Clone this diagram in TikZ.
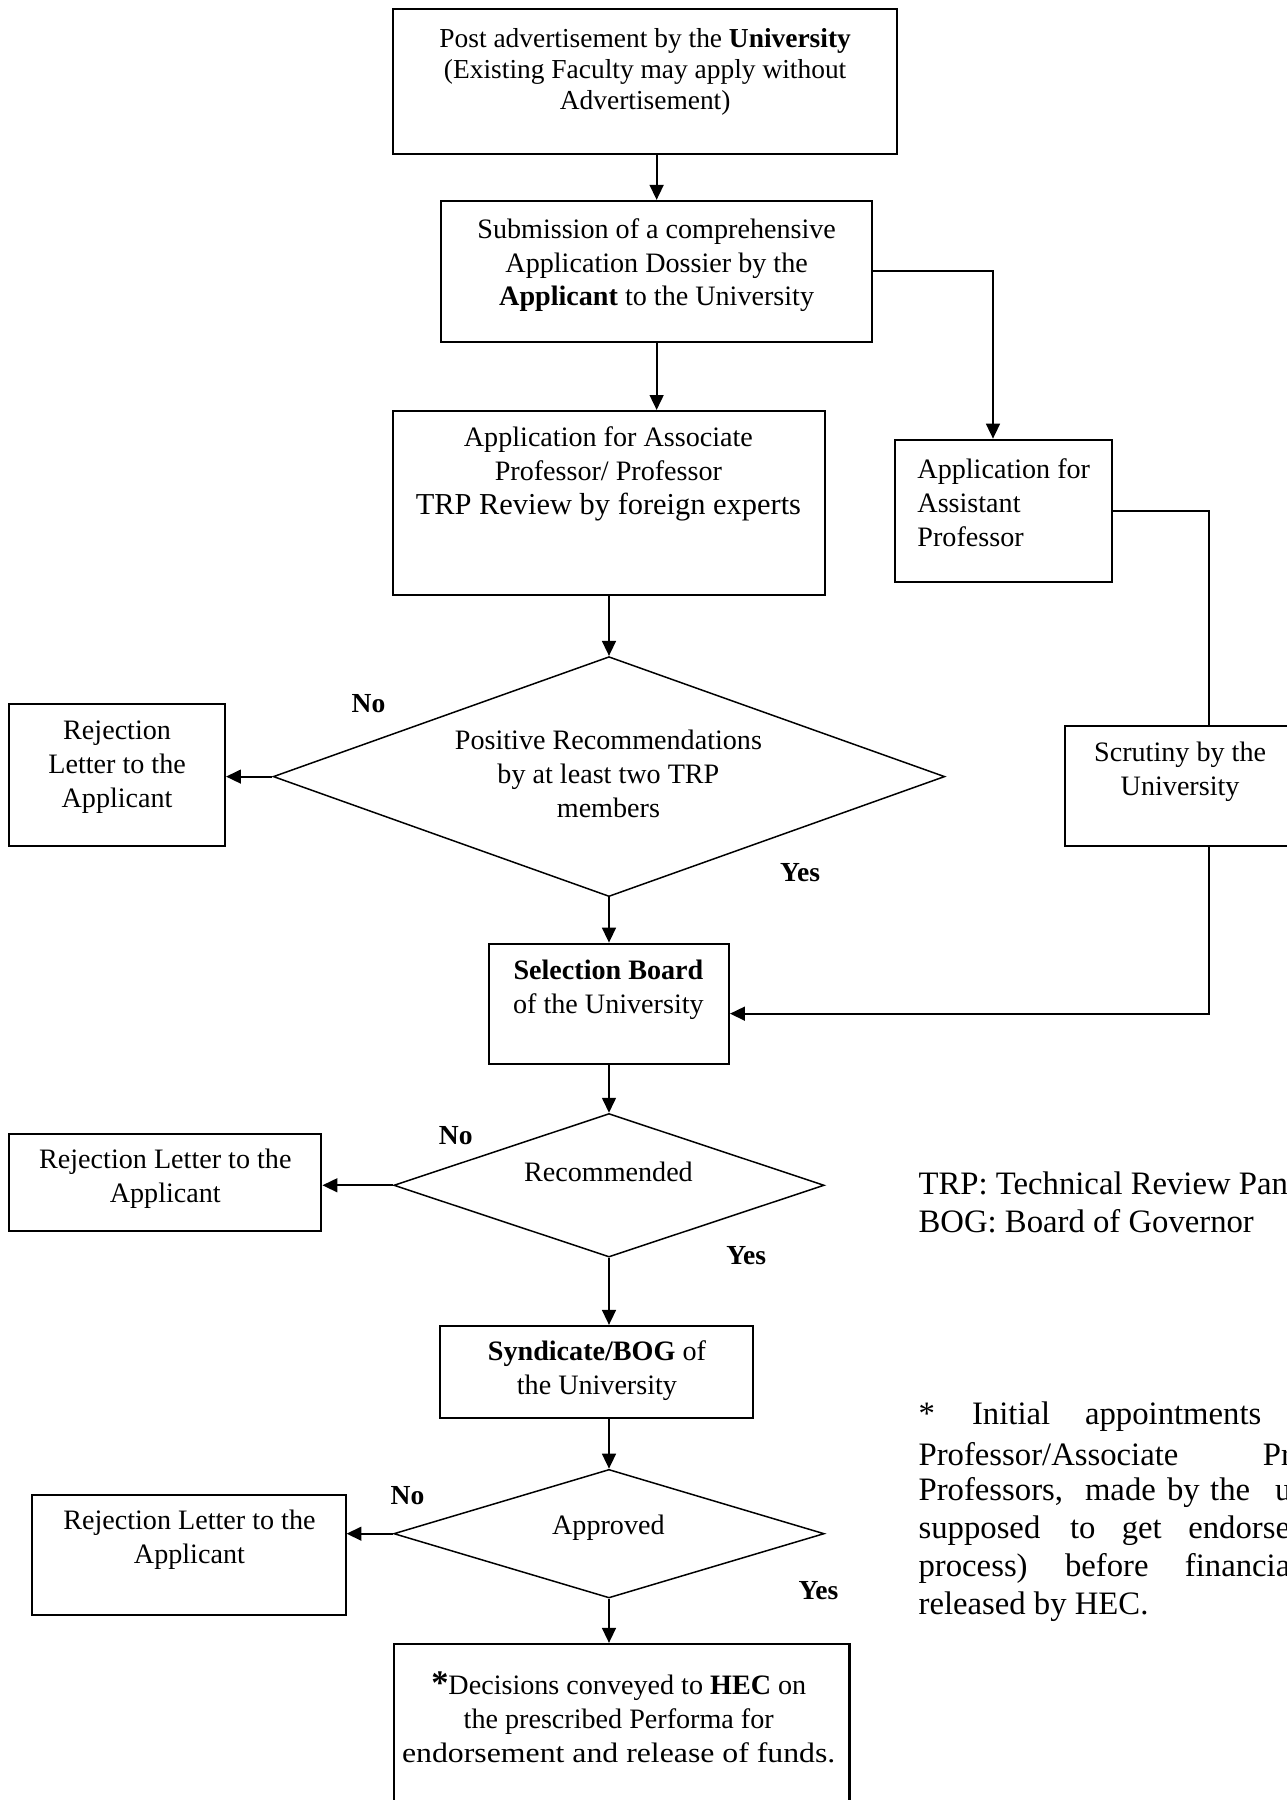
\documentclass[tikz,border=0pt]{standalone}
\usepackage{fontspec}
\setmainfont{Liberation Serif}
\usetikzlibrary{arrows.meta,shapes.geometric,fit,calc}
\begin{document}
\begin{tikzpicture}[x=1pt,y=-1pt,
  box/.style={draw, line width=1.75pt, inner sep=0pt},
  dia/.style={draw, diamond, line width=1.3pt, inner sep=0pt},
  gtxt/.style={align=center, inner sep=0pt, font=\fontsize{24.5}{29.5}\selectfont},
  ttxt/.style={align=center, inner sep=0pt, font=\fontsize{23.9}{27}\selectfont},
  ftxt/.style={align=left, inner sep=0pt, anchor=west, font=\fontsize{28.5}{33}\selectfont},
  lbl/.style={inner sep=0pt, font=\fontsize{24}{28}\selectfont\bfseries},
  arr/.style={line width=1.75pt, -{Triangle[length=13pt,width=12pt]}},
  ln/.style={line width=1.75pt}]
\useasboundingbox (0,0) rectangle (1121,1568);
\fill[white] (0,0) rectangle (1121,1568);

% boxes
\node[box, fit={(342,8) (781,134)}] (b1) {};
\node[ttxt] (t1) at (562,63) {Post advertisement by the \textbf{University}\\(Existing Faculty may apply without\\Advertisement)};

\node[box, fit={(384,175) (760,298)}] (b2) {};
\node[gtxt] (t2) at (572,231) {Submission of a comprehensive\\Application Dossier by the\\\textbf{Applicant} to the University};

\node[box, fit={(342,358) (719,518)}] (b3) {};
\node[gtxt] (t3) at (530,413) {Application for Associate\\Professor/ Professor\\{\fontsize{26.5}{30}\selectfont TRP Review by foreign experts}};

\node[box, fit={(780,383) (969,507)}] (b4) {};
\node[gtxt, align=left, anchor=west] (t4) at (799,438) {Application for\\Assistant\\Professor};

\node[dia, minimum width=585pt, minimum height=209pt] (d1) at (530.5,676.5) {};
\node[gtxt] (td1) at (530,674) {Positive Recommendations\\by at least two TRP\\members};

\node[box, fit={(8,613) (196,737)}] (r1) {};
\node[gtxt] (tr1) at (102,668) {Rejection\\Letter to the\\Applicant};

\node[box, fit={(928,632) (1128,737)}] (sc) {};
\node[gtxt] (tsc) at (1028,672) {Scrutiny by the\\University};

\node[box, fit={(426,822) (635,927)}] (sel) {};
\node[gtxt] (tsel) at (530,862) {\textbf{Selection Board}\\of the University};

\node[dia, minimum width=375pt, minimum height=125pt] (d2) at (530.5,1032.5) {};
\node[gtxt] (td2) at (530,1021) {Recommended};

\node[box, fit={(8,988) (280,1072)}] (r2) {};
\node[gtxt] (tr2) at (144,1027) {Rejection Letter to the\\Applicant};

\node[box, fit={(383,1155) (656,1235)}] (syn) {};
\node[gtxt] (tsyn) at (520,1194) {\textbf{Syndicate/BOG} of\\the University};

\node[dia, minimum width=375pt, minimum height=112pt] (d3) at (530.5,1336) {};
\node[gtxt] (td3) at (530,1331) {Approved};

\node[box, fit={(28,1302) (301,1407)}] (r3) {};
\node[gtxt] (tr3) at (165,1341) {Rejection Letter to the\\Applicant};

\node[box, fit={(343,1432) (740,1620)}] (hec) {};
\node[gtxt] (thec) at (539,1496) {{\fontsize{30}{30}\selectfont\bfseries *}Decisions conveyed to \textbf{HEC} on\\the prescribed Performa for\\\scalebox{1.13}[1]{endorsement and release of funds.}};

% labels
\node[lbl] (no1) at (321,613) {No};
\node[lbl] (yes1) at (697,760) {Yes};
\node[lbl] (no2) at (397,989) {No};
\node[lbl] (yes2) at (650,1094) {Yes};
\node[lbl] (no3) at (355,1303) {No};
\node[lbl] (yes3) at (713,1386) {Yes};

% legend and footnote (cut at the right edge as in the reference)
\node[ftxt] (leg) at (800,1047.5) {TRP: Technical Review Pane\\BOG: Board of Governor};
\node[ftxt] (f1) at (800,1234) {\rlap{*}\hspace{46.6pt}\rlap{Initial}\hspace{98.4pt}appointments};
\node[ftxt] (f2) at (800,1267) {\rlap{Professor/Associate}\hspace{300pt}Pr};
\node[ftxt] (f3) at (800,1300) {\rlap{Professors,}\hspace{145pt}\rlap{made}\hspace{71.5pt}\rlap{by}\hspace{37.5pt}\rlap{the}\hspace{56.5pt}u};
\node[ftxt] (f4) at (800,1333) {\rlap{supposed}\hspace{132pt}\rlap{to}\hspace{45pt}\rlap{get}\hspace{58pt}endorse};
\node[ftxt] (f5) at (800,1366) {\rlap{process)}\hspace{127.6pt}\rlap{before}\hspace{104.4pt}financia};
\node[ftxt] (f6) at (800,1400) {released by HEC.};

% connectors
\draw[arr] (b2.north |- b1.south) -- (b2.north);
\draw[arr] (b2.south) -- (b2.south |- b3.north);
\draw[arr] (b2.east) -| ([xshift=-9.5pt]b4.north);
\draw[arr] (b3.south) -- (d1.north);
\draw[ln] (b4.east) -| ([xshift=25pt]sc.north);
\draw[arr] (d1.west) -- (d1.west -| r1.east);
\draw[arr] (d1.south) -- (sel.north);
\draw[arr] ([xshift=25pt]sc.south) |- ([yshift=-8.5pt]sel.east);
\draw[arr] (sel.south) -- (d2.north);
\draw[arr] (d2.west) -- (d2.west -| r2.east);
\draw[arr] (d2.south) -- (d2.south |- syn.north);
\draw[arr] (d3.north |- syn.south) -- (d3.north);
\draw[arr] (d3.west) -- (d3.west -| r3.east);
\draw[arr] (d3.south) -- (d3.south |- hec.north);
\end{tikzpicture}
\end{document}
